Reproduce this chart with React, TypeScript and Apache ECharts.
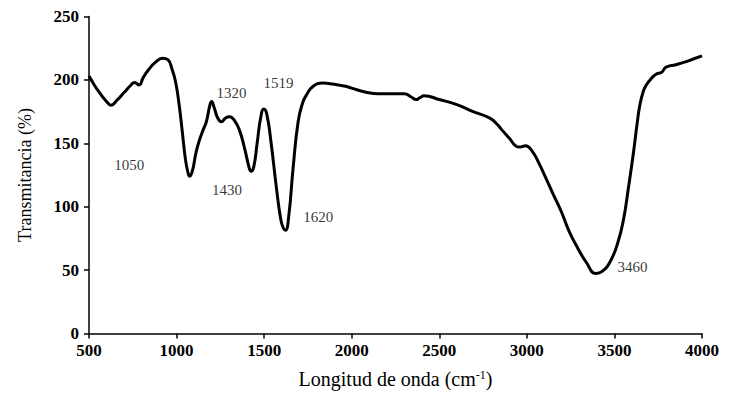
import React, { useEffect, useRef } from "react";
import * as echarts from "echarts";

// IR spectrum: wavenumber (cm^-1) and transmittance (%)
const wavenumber = [
  500, 530, 560, 600, 625, 660, 700, 740, 760, 786, 810, 840, 880, 920, 950, 975, 995,
  1015, 1032, 1050, 1065, 1075, 1090, 1110, 1125, 1150, 1170, 1190, 1200, 1215, 1235,
  1256, 1280, 1302, 1330, 1360, 1390, 1414, 1425, 1440, 1460, 1480, 1498, 1515, 1540,
  1570, 1595, 1610, 1622, 1640, 1665, 1694, 1720, 1741, 1780, 1834, 1900, 1965, 2000,
  2077, 2150, 2300, 2340, 2367, 2390, 2413, 2500, 2600, 2693, 2786, 2830, 2861, 2900,
  2936, 2960, 2992, 3029, 3070, 3104, 3150, 3197, 3240, 3290, 3340, 3393, 3430, 3477,
  3520, 3552, 3580, 3608, 3630, 3645, 3665, 3682, 3710, 3738, 3770, 3794, 3850, 3900,
  3950, 4000,
];
const transmittance = [
  203, 196, 190, 183, 180, 184, 190, 196, 198, 196, 202, 208, 214, 217, 216, 208, 198,
  180, 160, 138, 127, 124, 128, 142, 150, 160, 167, 180, 183, 178, 170,
  167, 170, 171, 168, 160, 145, 131, 128, 131, 150, 170, 177, 173, 150,
  115, 90, 83, 81.5, 92, 130, 167, 182, 188, 195, 197.5, 196.5, 195, 193.5,
  190.5, 189, 189, 186.5, 184.5, 186, 187.5, 184.5, 180.5, 175, 170, 165, 160, 154,
  148, 147, 148, 144, 134, 124, 110, 96, 81, 67.5, 56, 47.4, 49, 57,
  72, 90, 115, 142, 166, 180, 191, 196, 201, 204.5, 206, 210, 212, 214,
  216.5, 219,
];

// Assigned absorption bands and the transmittance at each band
const bands = [1050, 1320, 1430, 1519, 1620, 3460];
const bandTransmittance = [135, 170, 129, 176, 83, 49];

const yTicks = [0, 50, 100, 150, 200, 250];
const xTicks = [500, 1000, 1500, 2000, 2500, 3000, 3500, 4000];

// Pixel offsets of each band label from its band point
const labelOffsets: [number, number][] = [
  [-56, 3],
  [-1, -25],
  [-25, 20],
  [11, -27],
  [33, -11],
  [25, -4],
];

const SERIF = "'Liberation Serif', 'Times New Roman', serif";

export default function App() {
  const ref = useRef<HTMLDivElement>(null);

  useEffect(() => {
    if (!ref.current) return;
    const chart = echarts.init(ref.current, undefined, { renderer: "svg" });

    const axisLine = { show: true, lineStyle: { color: "#000", width: 1.5 } };
    const axisTick = { show: true, inside: false, length: 5, lineStyle: { color: "#000", width: 1.5 } };

    chart.setOption({
      animation: false,
      backgroundColor: "#fff",
      // chart div sits inside the 8px body margin
      grid: { left: 77, right: 11, top: 8, bottom: 53, containLabel: false },
      xAxis: {
        type: "value",
        min: xTicks[0],
        max: xTicks[xTicks.length - 1],
        interval: xTicks[1] - xTicks[0],
        name: "Longitud de onda (cm{sup|-1})",
        nameLocation: "middle",
        nameGap: 35,
        nameTextStyle: {
          fontFamily: SERIF,
          fontSize: 20,
          color: "#000",
          rich: { sup: { fontFamily: SERIF, fontSize: 12, verticalAlign: "top", padding: [0, 0, 9, 0], color: "#000" } },
        },
        axisLine,
        axisTick,
        splitLine: { show: false },
        axisLabel: {
          fontFamily: SERIF,
          fontSize: 17,
          fontWeight: "bold",
          color: "#000",
          margin: 8,
          formatter: (v: number) => String(v),
        },
      },
      yAxis: {
        type: "value",
        min: yTicks[0],
        max: yTicks[yTicks.length - 1],
        interval: yTicks[1] - yTicks[0],
        name: "Transmitancia (%)",
        nameLocation: "middle",
        nameGap: 55,
        nameTextStyle: { fontFamily: SERIF, fontSize: 18, color: "#000" },
        axisLine,
        axisTick,
        splitLine: { show: false },
        axisLabel: {
          fontFamily: SERIF,
          fontSize: 17,
          fontWeight: "bold",
          color: "#000",
          margin: 10,
          formatter: (v: number) => String(v),
        },
      },
      series: [
        {
          type: "line",
          data: wavenumber.map((w, i) => [w, transmittance[i]]),
          showSymbol: false,
          smooth: 0.5,
          lineStyle: { color: "#000", width: 3 },
          z: 3,
        },
        {
          type: "scatter",
          data: bands.map((b, i) => ({
            value: [b, bandTransmittance[i]],
            label: {
              show: true,
              position: "inside",
              offset: labelOffsets[i],
              formatter: String(b),
              fontFamily: SERIF,
              fontSize: 15,
              color: "#000",
              textBorderWidth: 0,
            },
          })),
          symbolSize: 0,
          itemStyle: { color: "#000" },
          silent: true,
          z: 4,
        },
      ],
    });

    return () => chart.dispose();
  }, []);

  return <div ref={ref} style={{ width: 714, height: 386 }} />;
}
